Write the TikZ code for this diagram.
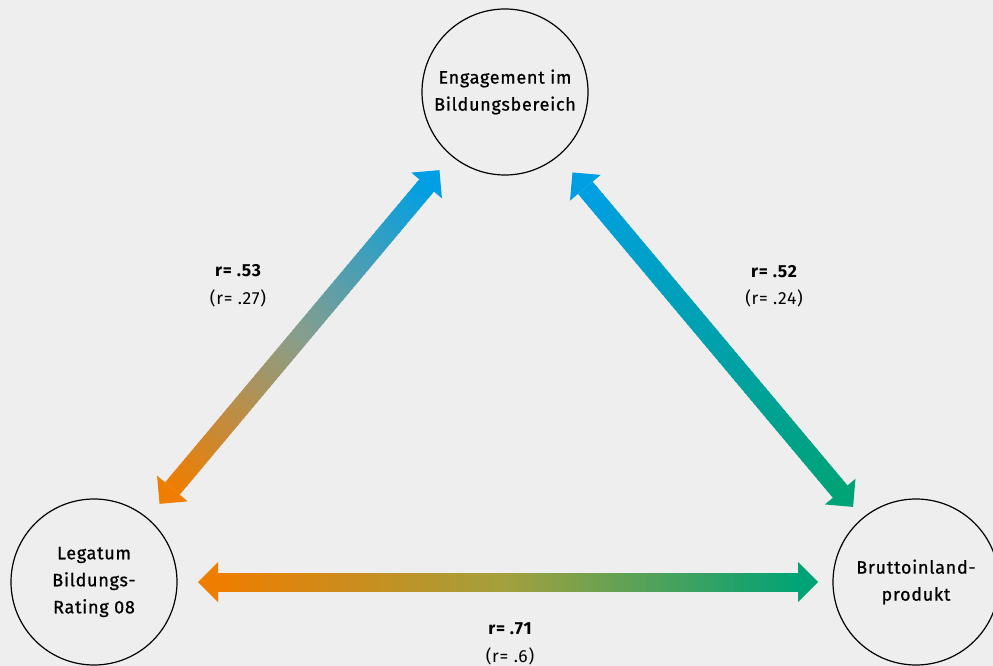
\documentclass[tikz,border=0pt]{standalone}
\usepackage{fontspec}
\setmainfont{Fira Sans}[LetterSpace=4]
\newfontfamily\circfont{Fira Sans}[LetterSpace=4, FakeBold=0.8]
\usepackage{tikz}
\usetikzlibrary{calc}
\usepackage{xcolor}

\definecolor{bgGray}{HTML}{EEEEEE}
\definecolor{legOrange}{HTML}{EF7D00}
\definecolor{engBlue}{HTML}{009FE3}
\definecolor{bipGreen}{HTML}{00A376}
\definecolor{midGray}{HTML}{889E8C}
\definecolor{midOlive}{HTML}{A2A03E}
\colorlet{midTeal}{engBlue!50!bipGreen}

% double arrow with a colour run: tip, tip, colour at first tip, middle colour, colour at second tip
\newcommand{\corrarrow}[5]{%
    \coordinate (hb1) at ($(#1)!20pt!(#2)$);
    \coordinate (hb2) at ($(#2)!20pt!(#1)$);
    \foreach \k in {0,...,79} {
        \pgfmathsetmacro{\ta}{\k/80}
        \pgfmathsetmacro{\tb}{(\k+1.6)/80}
        \ifnum\k<40
            \pgfmathsetmacro{\mix}{100-100*(\k+0.5)/40}
            \colorlet{segcol}{#3!\mix!#4}
        \else
            \pgfmathsetmacro{\mix}{100-100*(\k-39.5)/40}
            \colorlet{segcol}{#4!\mix!#5}
        \fi
        \draw[line width=19pt, segcol] ($(hb1)!\ta!(hb2)$) -- ($(hb1)!\tb!(hb2)$);
    }
    \fill[#3] (#1) -- ($(hb1)!20pt!90:(#1)$) -- ($(hb1)!20pt!-90:(#1)$) -- cycle;
    \fill[#5] (#2) -- ($(hb2)!20pt!90:(#2)$) -- ($(hb2)!20pt!-90:(#2)$) -- cycle;
}

\begin{document}
\begin{tikzpicture}[x=1pt, y=-1pt,
    circ/.style={circle, draw, line width=1.2pt, minimum size=166pt, inner sep=0pt,
        align=center, font=\circfont\fontsize{18}{27}\selectfont},
    corr/.style={font=\bfseries\fontsize{17.5}{18}\selectfont},
    corrp/.style={font=\fontsize{17.5}{18}\selectfont}]

    % Background and frame
    \fill[bgGray] (0,0) rectangle (993,666);
    \useasboundingbox (0,0) rectangle (993,666);

    % The three variables
    \node[circ] (eng) at (505, 92) {Engagement im\\Bildungsbereich};
    \node[circ] (leg) at (94, 582) {Legatum\\Bildungs-\\Rating 08};
    \node[circ] (bip) at (916, 582) {Bruttoinland-\\produkt};

    % Arrow tips
    \coordinate (le) at ($(leg)!102pt!(eng)$);
    \coordinate (el) at ($(eng)!102pt!(leg)$);
    \coordinate (eb) at ($(eng)!105pt!(bip)$);
    \coordinate (be) at ($(bip)!98pt!(eng)$);
    \coordinate (lb) at ($(leg)!104pt!(bip)$);
    \coordinate (bl) at ($(bip)!98pt!(leg)$);

    % Correlation arrows
    \corrarrow{le}{el}{legOrange}{midGray}{engBlue}
    \corrarrow{eb}{be}{engBlue}{midTeal}{bipGreen}
    \corrarrow{lb}{bl}{legOrange}{midOlive}{bipGreen}

    % Correlation values
    \node[corr] (r53) at (238, 271) {r= .53};
    \node[corrp] (r27) at (238, 298) {(r= .27)};
    \node[corr] (r52) at (774, 272) {r= .52};
    \node[corrp] (r24) at (774, 298) {(r= .24)};
    \node[corr] (r71) at (510, 629) {r= .71};
    \node[corrp] (r6) at (510, 656) {(r= .6)};

\end{tikzpicture}
\end{document}
